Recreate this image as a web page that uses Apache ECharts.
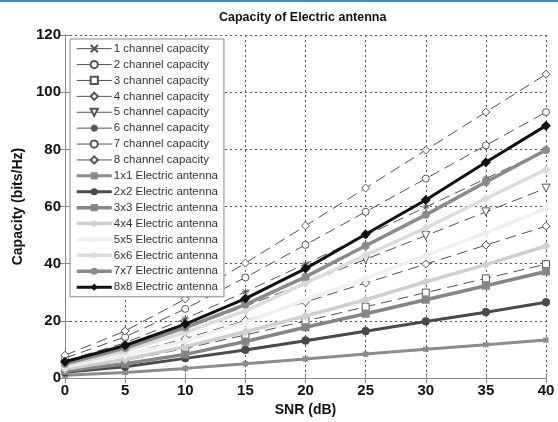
<!DOCTYPE html>
<html>
<head>
<meta charset="utf-8">
<script src="https://cdn.jsdelivr.net/npm/echarts@6/dist/echarts.min.js"></script>
<style>
  html, body { margin: 0; padding: 0; background: #fff; }
  #chart { width: 558px; height: 422px; }
</style>
</head>
<body>
<div id="chart"></div>
<script>
// SNR axis (dB)
var snr = [0, 5, 10, 15, 20, 25, 30, 35, 40];

// ideal n-channel capacity (dashed curves)
var ch1 = [1.0, 2.06, 3.46, 5.03, 6.66, 8.31, 9.97, 11.63, 13.29];
var ch2 = [2.0, 4.11, 6.92, 10.06, 13.32, 16.62, 19.93, 23.25, 26.58];
var ch3 = [3.0, 6.17, 10.38, 15.08, 19.97, 24.93, 29.9, 34.88, 39.86];
var ch4 = [4.0, 8.23, 13.84, 20.11, 26.63, 33.24, 39.87, 46.51, 53.15];
var ch5 = [5.0, 10.29, 17.3, 25.14, 33.29, 41.55, 49.84, 58.14, 66.44];
var ch6 = [6.0, 12.34, 20.75, 30.17, 39.95, 49.85, 59.8, 69.76, 79.73];
var ch7 = [7.0, 14.4, 24.21, 35.2, 46.61, 58.16, 69.77, 81.39, 93.02];
var ch8 = [8.0, 16.46, 27.67, 40.23, 53.27, 66.47, 79.74, 93.02, 106.31];

// electric antenna curves (solid)
var e1 = [1.0, 2.0, 3.4, 5.0, 6.7, 8.4, 10.1, 11.7, 13.3];
var e2 = [2.0, 4.0, 6.9, 9.8, 13.1, 16.4, 19.8, 23.0, 26.5];
var e3 = [2.5, 5.0, 8.3, 12.8, 17.8, 22.5, 27.4, 32.3, 37.3];
var e4 = [3.2, 6.5, 11.0, 16.2, 21.7, 27.4, 33.7, 39.7, 46.2];
var e5 = [4.0, 8.0, 13.0, 19.5, 27.4, 34.9, 42.9, 50.8, 59.3];
var e6 = [4.5, 9.5, 16.0, 23.5, 33.2, 43.0, 52.5, 62.8, 72.9];
var e7 = [5.0, 10.5, 17.7, 25.7, 35.4, 46.3, 57.1, 68.6, 79.8];
var e8 = [5.7, 11.4, 18.9, 27.8, 38.3, 50.3, 62.3, 75.5, 88.3];

var chNames = ['1 channel capacity','2 channel capacity','3 channel capacity','4 channel capacity',
               '5 channel capacity','6 channel capacity','7 channel capacity','8 channel capacity'];
var eNames = ['1x1 Electric antenna','2x2 Electric antenna','3x3 Electric antenna','4x4 Electric antenna',
              '5x5 Electric antenna','6x6 Electric antenna','7x7 Electric antenna','8x8 Electric antenna'];

function pairs(ys) {
  var out = [];
  for (var i = 0; i < snr.length; i++) out.push([snr[i], ys[i]]);
  return out;
}

var xMark = 'path://M0,0L10,10M10,0L0,10';
var starMark = 'path://M5,0L5,10M0,5L10,5M1.5,1.5L8.5,8.5M8.5,1.5L1.5,8.5';
var chSym = [xMark, 'circle', 'rect', 'diamond', 'triangle', starMark, 'circle', 'diamond'];
var chRot = [0, 0, 0, 0, 180, 0, 0, 0];
var chSize = [5, 7, 7, 8, 8, 7, 7, 8];

var eSym = ['rect', 'circle', 'rect', 'diamond', 'diamond', 'diamond', 'circle', 'diamond'];
var eSize = [5, 8, 8, 9, 9, 9, 8, 10];
var eColor = ['#8c8c8c', '#4a4a4a', '#858585', '#cfcfcf', '#efefef', '#dcdcdc', '#8a8a8a', '#111111'];
var eWidth = [3, 3, 3.5, 3.5, 3.5, 3.5, 3.5, 3];

var chData = [ch1, ch2, ch3, ch4, ch5, ch6, ch7, ch8];
var eData = [e1, e2, e3, e4, e5, e6, e7, e8];

var series = [];
for (var i = 0; i < 8; i++) {
  series.push({
    name: chNames[i], type: 'line', data: pairs(chData[i]),
    symbol: chSym[i], symbolSize: chSize[i], symbolRotate: chRot[i],
    lineStyle: { color: '#505050', width: 1, type: [11, 6] },
    itemStyle: { color: '#fff', borderColor: '#555', borderWidth: 1 },
    emphasis: { disabled: true }, animation: false, z: 2
  });
}
for (var j = 0; j < 8; j++) {
  series.push({
    name: eNames[j], type: 'line', data: pairs(eData[j]),
    symbol: eSym[j], symbolSize: eSize[j],
    lineStyle: { color: eColor[j], width: eWidth[j] },
    itemStyle: { color: eColor[j] },
    emphasis: { disabled: true }, animation: false, z: 3
  });
}

var chart = echarts.init(document.getElementById('chart'));
var tickFont = { fontFamily: 'Liberation Sans', fontWeight: 'bold', fontSize: 15, color: '#111' };
chart.setOption({
  backgroundColor: '#fff',
  animation: false,
  graphic: [{ type: 'rect', shape: { x: 0, y: 0, width: 558, height: 2 }, style: { fill: '#3d8fd1' } }],
  title: {
    text: 'Capacity of Electric antenna', left: 214, top: 6,
    textStyle: { fontFamily: 'Liberation Sans', fontWeight: 'bold', fontSize: 12.5, color: '#111' }
  },
  grid: { left: 65, right: 12, top: 35, bottom: 37 },
  legend: {
    orient: 'vertical', left: 70, top: 39,
    data: chNames.concat(eNames),
    backgroundColor: '#fff', borderColor: '#888', borderWidth: 1,
    padding: [3, 6, 3, 5], itemWidth: 35, itemHeight: 9, itemGap: 2.6,
    lineStyle: { type: 'solid', width: 'inherit' },
    textStyle: { fontFamily: 'Liberation Sans', fontSize: 11.5, color: '#333', lineHeight: 13.3, padding: [0, 0, 0, -3] }
  },
  xAxis: [{
    type: 'value', min: 0, max: 40, interval: 5,
    name: 'SNR (dB)', nameLocation: 'middle', nameGap: 19,
    nameTextStyle: { fontFamily: 'Liberation Sans', fontWeight: 'bold', fontSize: 14, color: '#111' },
    axisLine: { show: true, lineStyle: { color: '#888' } },
    axisTick: { inside: true, length: 5, lineStyle: { color: '#888' } },
    axisLabel: Object.assign({ margin: 5 }, tickFont),
    splitLine: { show: true, lineStyle: { color: '#555', type: [2, 3] } }
  }, {
    type: 'value', min: 0, max: 40, interval: 5, position: 'top',
    axisLine: { show: true, lineStyle: { color: '#888' } },
    axisTick: { inside: true, length: 5, lineStyle: { color: '#888' } },
    axisLabel: { show: false }, splitLine: { show: false }
  }],
  yAxis: [{
    type: 'value', min: 0, max: 120, interval: 20,
    name: 'Capacity (bits/Hz)', nameLocation: 'middle', nameGap: 40,
    nameTextStyle: { fontFamily: 'Liberation Sans', fontWeight: 'bold', fontSize: 14, color: '#111' },
    axisLine: { show: true, lineStyle: { color: '#888' } },
    axisTick: { inside: true, length: 5, lineStyle: { color: '#888' } },
    axisLabel: Object.assign({ margin: 4 }, tickFont),
    splitLine: { show: true, lineStyle: { color: '#555', type: [2, 3] } }
  }, {
    type: 'value', min: 0, max: 120, interval: 20, position: 'right',
    axisLine: { show: true, lineStyle: { color: '#888' } },
    axisTick: { inside: true, length: 5, lineStyle: { color: '#888' } },
    axisLabel: { show: false }, splitLine: { show: false }
  }],
  series: series
});
</script>
</body>
</html>
